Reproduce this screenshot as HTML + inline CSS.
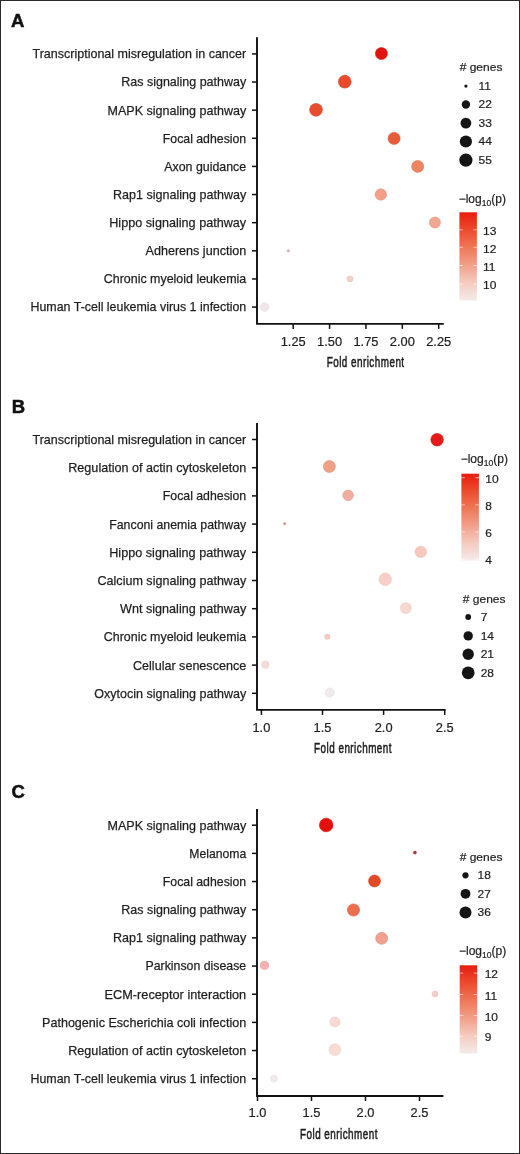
<!DOCTYPE html>
<html><head><meta charset="utf-8"><style>
html,body{margin:0;padding:0;background:#fff;}
svg{display:block;will-change:transform;}
text{font-family:"Liberation Sans",sans-serif;}
</style></head><body>
<svg width="520" height="1154" viewBox="0 0 520 1154">
<rect x="0.5" y="0.5" width="519" height="1153" fill="#fff" stroke="#2a2a2a" stroke-width="1"/>
<text x="11.0" y="26.8" font-size="18.5" font-weight="bold" fill="#111" stroke="#111" stroke-width="0.5">A</text>
<path d="M257 37.3V323.9H443.8" fill="none" stroke="#111" stroke-width="1.9" stroke-linejoin="miter" stroke-linecap="butt"/>
<path d="M252 53.90H257" stroke="#111" stroke-width="1.5"/>
<text x="32.50" y="58.30" font-size="13.6" fill="#1e1e1e" stroke="#1e1e1e" stroke-width="0.25" textLength="213.70" lengthAdjust="spacingAndGlyphs">Transcriptional misregulation in cancer</text>
<path d="M252 82.03H257" stroke="#111" stroke-width="1.5"/>
<text x="121.25" y="86.43" font-size="13.6" fill="#1e1e1e" stroke="#1e1e1e" stroke-width="0.25" textLength="124.95" lengthAdjust="spacingAndGlyphs">Ras signaling pathway</text>
<path d="M252 110.16H257" stroke="#111" stroke-width="1.5"/>
<text x="107.50" y="114.56" font-size="13.6" fill="#1e1e1e" stroke="#1e1e1e" stroke-width="0.25" textLength="138.69" lengthAdjust="spacingAndGlyphs">MAPK signaling pathway</text>
<path d="M252 138.29H257" stroke="#111" stroke-width="1.5"/>
<text x="162.80" y="142.69" font-size="13.6" fill="#1e1e1e" stroke="#1e1e1e" stroke-width="0.25" textLength="83.40" lengthAdjust="spacingAndGlyphs">Focal adhesion</text>
<path d="M252 166.42H257" stroke="#111" stroke-width="1.5"/>
<text x="164.25" y="170.82" font-size="13.6" fill="#1e1e1e" stroke="#1e1e1e" stroke-width="0.25" textLength="81.95" lengthAdjust="spacingAndGlyphs">Axon guidance</text>
<path d="M252 194.55H257" stroke="#111" stroke-width="1.5"/>
<text x="113.00" y="198.95" font-size="13.6" fill="#1e1e1e" stroke="#1e1e1e" stroke-width="0.25" textLength="133.20" lengthAdjust="spacingAndGlyphs">Rap1 signaling pathway</text>
<path d="M252 222.68H257" stroke="#111" stroke-width="1.5"/>
<text x="109.25" y="227.08" font-size="13.6" fill="#1e1e1e" stroke="#1e1e1e" stroke-width="0.25" textLength="136.95" lengthAdjust="spacingAndGlyphs">Hippo signaling pathway</text>
<path d="M252 250.81H257" stroke="#111" stroke-width="1.5"/>
<text x="145.50" y="255.21" font-size="13.6" fill="#1e1e1e" stroke="#1e1e1e" stroke-width="0.25" textLength="100.71" lengthAdjust="spacingAndGlyphs">Adherens junction</text>
<path d="M252 278.94H257" stroke="#111" stroke-width="1.5"/>
<text x="103.75" y="283.34" font-size="13.6" fill="#1e1e1e" stroke="#1e1e1e" stroke-width="0.25" textLength="142.44" lengthAdjust="spacingAndGlyphs">Chronic myeloid leukemia</text>
<path d="M252 307.07H257" stroke="#111" stroke-width="1.5"/>
<text x="30.50" y="311.47" font-size="13.6" fill="#1e1e1e" stroke="#1e1e1e" stroke-width="0.25" textLength="215.70" lengthAdjust="spacingAndGlyphs">Human T-cell leukemia virus 1 infection</text>
<path d="M293.20 323.9V328.9" stroke="#111" stroke-width="1.5"/>
<text x="293.20" y="345.8" font-size="12" text-anchor="middle" fill="#1e1e1e" stroke="#1e1e1e" stroke-width="0.2" textLength="24.99" lengthAdjust="spacingAndGlyphs">1.25</text>
<path d="M329.57 323.9V328.9" stroke="#111" stroke-width="1.5"/>
<text x="329.57" y="345.8" font-size="12" text-anchor="middle" fill="#1e1e1e" stroke="#1e1e1e" stroke-width="0.2" textLength="24.99" lengthAdjust="spacingAndGlyphs">1.50</text>
<path d="M365.95 323.9V328.9" stroke="#111" stroke-width="1.5"/>
<text x="365.95" y="345.8" font-size="12" text-anchor="middle" fill="#1e1e1e" stroke="#1e1e1e" stroke-width="0.2" textLength="24.99" lengthAdjust="spacingAndGlyphs">1.75</text>
<path d="M402.32 323.9V328.9" stroke="#111" stroke-width="1.5"/>
<text x="402.32" y="345.8" font-size="12" text-anchor="middle" fill="#1e1e1e" stroke="#1e1e1e" stroke-width="0.2" textLength="24.99" lengthAdjust="spacingAndGlyphs">2.00</text>
<path d="M438.70 323.9V328.9" stroke="#111" stroke-width="1.5"/>
<text x="438.70" y="345.8" font-size="12" text-anchor="middle" fill="#1e1e1e" stroke="#1e1e1e" stroke-width="0.2" textLength="24.99" lengthAdjust="spacingAndGlyphs">2.25</text>
<g transform="translate(326.71,367.30) scale(0.66,1)"><text x="0" y="0" font-size="15" fill="#1e1e1e" stroke="#1e1e1e" stroke-width="0.55" textLength="117.27" lengthAdjust="spacing">Fold enrichment</text></g>
<circle cx="381.4" cy="53.6" r="6.00" fill="#e2140e" stroke="#cb120c" stroke-width="0.6"/>
<circle cx="344.8" cy="81.7" r="6.40" fill="#e84a2c" stroke="#d04227" stroke-width="0.6"/>
<circle cx="316" cy="109.8" r="6.40" fill="#e94d30" stroke="#d1452b" stroke-width="0.6"/>
<circle cx="394.1" cy="138.4" r="6.00" fill="#e85c38" stroke="#d05232" stroke-width="0.6"/>
<circle cx="417.7" cy="166.4" r="6.00" fill="#ef8560" stroke="#d77756" stroke-width="0.6"/>
<circle cx="380.8" cy="194.5" r="5.70" fill="#f2a088" stroke="#d9907a" stroke-width="0.6"/>
<circle cx="434.9" cy="222.5" r="5.50" fill="#f3a690" stroke="#da9581" stroke-width="0.6"/>
<circle cx="288.4" cy="250.8" r="1.10" fill="#dcb2b0" stroke="#c6a09e" stroke-width="0.6"/>
<circle cx="350" cy="278.9" r="3.00" fill="#f5d0c6" stroke="#e8c5bc" stroke-width="0.6"/>
<circle cx="264.6" cy="307" r="4.40" fill="#efe7ea" stroke="#e3dbde" stroke-width="0.6"/>
<text x="459.7" y="71.3" font-size="11.5" fill="#1e1e1e" stroke="#1e1e1e" stroke-width="0.2" textLength="42.70" lengthAdjust="spacingAndGlyphs"># genes</text>
<circle cx="465.9" cy="86.1" r="1.60" fill="#151515"/>
<text x="478.5" y="89.9" font-size="11.5" fill="#1e1e1e" stroke="#1e1e1e" stroke-width="0.2" textLength="12.46" lengthAdjust="spacingAndGlyphs">11</text>
<circle cx="465.9" cy="104.5" r="4.20" fill="#151515"/>
<text x="478.5" y="108.3" font-size="11.5" fill="#1e1e1e" stroke="#1e1e1e" stroke-width="0.2" textLength="13.35" lengthAdjust="spacingAndGlyphs">22</text>
<circle cx="465.9" cy="123.1" r="5.40" fill="#151515"/>
<text x="478.5" y="126.9" font-size="11.5" fill="#1e1e1e" stroke="#1e1e1e" stroke-width="0.2" textLength="13.35" lengthAdjust="spacingAndGlyphs">33</text>
<circle cx="465.9" cy="141.5" r="6.10" fill="#151515"/>
<text x="478.5" y="145.3" font-size="11.5" fill="#1e1e1e" stroke="#1e1e1e" stroke-width="0.2" textLength="13.35" lengthAdjust="spacingAndGlyphs">44</text>
<circle cx="465.9" cy="160.1" r="6.60" fill="#151515"/>
<text x="478.5" y="163.9" font-size="11.5" fill="#1e1e1e" stroke="#1e1e1e" stroke-width="0.2" textLength="13.35" lengthAdjust="spacingAndGlyphs">55</text>
<text x="458.7" y="203.3" font-size="12" fill="#1e1e1e" stroke="#1e1e1e" stroke-width="0.2">&#8722;log<tspan font-size="8.6" dy="2.6">10</tspan><tspan dy="-2.6">(p)</tspan></text>
<defs><linearGradient id="g0" x1="0" y1="0" x2="0" y2="1"><stop offset="0" stop-color="#e81c0e"/><stop offset="0.2" stop-color="#ec4b2e"/><stop offset="0.4" stop-color="#ef7758"/><stop offset="0.6" stop-color="#f1a08a"/><stop offset="0.8" stop-color="#f5cbc0"/><stop offset="1" stop-color="#f4ebe9"/></linearGradient></defs>
<rect x="459.4" y="212.3" width="17.5" height="88.19999999999999" fill="url(#g0)"/>
<path d="M459.4 229.8h3.5M473.4 229.8h3.5" stroke="#fff" stroke-opacity="0.6" stroke-width="1"/>
<text x="483" y="235.0" font-size="11.5" fill="#1e1e1e" stroke="#1e1e1e" stroke-width="0.2" textLength="13.35" lengthAdjust="spacingAndGlyphs">13</text>
<path d="M459.4 247.3h3.5M473.4 247.3h3.5" stroke="#fff" stroke-opacity="0.6" stroke-width="1"/>
<text x="483" y="252.5" font-size="11.5" fill="#1e1e1e" stroke="#1e1e1e" stroke-width="0.2" textLength="13.35" lengthAdjust="spacingAndGlyphs">12</text>
<path d="M459.4 265.5h3.5M473.4 265.5h3.5" stroke="#fff" stroke-opacity="0.6" stroke-width="1"/>
<text x="483" y="270.7" font-size="11.5" fill="#1e1e1e" stroke="#1e1e1e" stroke-width="0.2" textLength="12.46" lengthAdjust="spacingAndGlyphs">11</text>
<path d="M459.4 284h3.5M473.4 284h3.5" stroke="#fff" stroke-opacity="0.6" stroke-width="1"/>
<text x="483" y="289.2" font-size="11.5" fill="#1e1e1e" stroke="#1e1e1e" stroke-width="0.2" textLength="13.35" lengthAdjust="spacingAndGlyphs">10</text>
<text x="11.8" y="412.7" font-size="18.5" font-weight="bold" fill="#111" stroke="#111" stroke-width="0.5">B</text>
<path d="M257 423.1V709.9H445.6" fill="none" stroke="#111" stroke-width="1.9" stroke-linejoin="miter" stroke-linecap="butt"/>
<path d="M252 439.50H257" stroke="#111" stroke-width="1.5"/>
<text x="32.50" y="443.90" font-size="13.6" fill="#1e1e1e" stroke="#1e1e1e" stroke-width="0.25" textLength="213.70" lengthAdjust="spacingAndGlyphs">Transcriptional misregulation in cancer</text>
<path d="M252 467.70H257" stroke="#111" stroke-width="1.5"/>
<text x="68.25" y="472.10" font-size="13.6" fill="#1e1e1e" stroke="#1e1e1e" stroke-width="0.25" textLength="177.95" lengthAdjust="spacingAndGlyphs">Regulation of actin cytoskeleton</text>
<path d="M252 495.90H257" stroke="#111" stroke-width="1.5"/>
<text x="162.80" y="500.30" font-size="13.6" fill="#1e1e1e" stroke="#1e1e1e" stroke-width="0.25" textLength="83.40" lengthAdjust="spacingAndGlyphs">Focal adhesion</text>
<path d="M252 524.10H257" stroke="#111" stroke-width="1.5"/>
<text x="109.25" y="528.50" font-size="13.6" fill="#1e1e1e" stroke="#1e1e1e" stroke-width="0.25" textLength="136.95" lengthAdjust="spacingAndGlyphs">Fanconi anemia pathway</text>
<path d="M252 552.30H257" stroke="#111" stroke-width="1.5"/>
<text x="109.25" y="556.70" font-size="13.6" fill="#1e1e1e" stroke="#1e1e1e" stroke-width="0.25" textLength="136.95" lengthAdjust="spacingAndGlyphs">Hippo signaling pathway</text>
<path d="M252 580.50H257" stroke="#111" stroke-width="1.5"/>
<text x="97.50" y="584.90" font-size="13.6" fill="#1e1e1e" stroke="#1e1e1e" stroke-width="0.25" textLength="148.71" lengthAdjust="spacingAndGlyphs">Calcium signaling pathway</text>
<path d="M252 608.70H257" stroke="#111" stroke-width="1.5"/>
<text x="120.00" y="613.10" font-size="13.6" fill="#1e1e1e" stroke="#1e1e1e" stroke-width="0.25" textLength="126.21" lengthAdjust="spacingAndGlyphs">Wnt signaling pathway</text>
<path d="M252 636.90H257" stroke="#111" stroke-width="1.5"/>
<text x="103.75" y="641.30" font-size="13.6" fill="#1e1e1e" stroke="#1e1e1e" stroke-width="0.25" textLength="142.44" lengthAdjust="spacingAndGlyphs">Chronic myeloid leukemia</text>
<path d="M252 665.10H257" stroke="#111" stroke-width="1.5"/>
<text x="133.00" y="669.50" font-size="13.6" fill="#1e1e1e" stroke="#1e1e1e" stroke-width="0.25" textLength="113.20" lengthAdjust="spacingAndGlyphs">Cellular senescence</text>
<path d="M252 693.30H257" stroke="#111" stroke-width="1.5"/>
<text x="94.25" y="697.70" font-size="13.6" fill="#1e1e1e" stroke="#1e1e1e" stroke-width="0.25" textLength="151.95" lengthAdjust="spacingAndGlyphs">Oxytocin signaling pathway</text>
<path d="M261.40 709.9V714.9" stroke="#111" stroke-width="1.5"/>
<text x="261.40" y="732" font-size="12" text-anchor="middle" fill="#1e1e1e" stroke="#1e1e1e" stroke-width="0.2" textLength="17.85" lengthAdjust="spacingAndGlyphs">1.0</text>
<path d="M322.50 709.9V714.9" stroke="#111" stroke-width="1.5"/>
<text x="322.50" y="732" font-size="12" text-anchor="middle" fill="#1e1e1e" stroke="#1e1e1e" stroke-width="0.2" textLength="17.85" lengthAdjust="spacingAndGlyphs">1.5</text>
<path d="M383.60 709.9V714.9" stroke="#111" stroke-width="1.5"/>
<text x="383.60" y="732" font-size="12" text-anchor="middle" fill="#1e1e1e" stroke="#1e1e1e" stroke-width="0.2" textLength="17.85" lengthAdjust="spacingAndGlyphs">2.0</text>
<path d="M444.70 709.9V714.9" stroke="#111" stroke-width="1.5"/>
<text x="444.70" y="732" font-size="12" text-anchor="middle" fill="#1e1e1e" stroke="#1e1e1e" stroke-width="0.2" textLength="17.85" lengthAdjust="spacingAndGlyphs">2.5</text>
<g transform="translate(314.11,752.80) scale(0.66,1)"><text x="0" y="0" font-size="15" fill="#1e1e1e" stroke="#1e1e1e" stroke-width="0.55" textLength="117.27" lengthAdjust="spacing">Fold enrichment</text></g>
<circle cx="437.1" cy="439.7" r="6.30" fill="#e51b1b" stroke="#ce1818" stroke-width="0.6"/>
<circle cx="329.4" cy="466.5" r="6.00" fill="#f0a084" stroke="#d89076" stroke-width="0.6"/>
<circle cx="348.1" cy="495.3" r="5.30" fill="#f2ada2" stroke="#d99b91" stroke-width="0.6"/>
<circle cx="284.6" cy="523.7" r="1.10" fill="#c8a090" stroke="#b49081" stroke-width="0.6"/>
<circle cx="420.8" cy="551.9" r="5.70" fill="#f5c8bc" stroke="#e8beb2" stroke-width="0.6"/>
<circle cx="385.2" cy="579.3" r="6.20" fill="#f7cfc6" stroke="#eac4bc" stroke-width="0.6"/>
<circle cx="405.8" cy="608.1" r="5.50" fill="#f8d8ce" stroke="#ebcdc3" stroke-width="0.6"/>
<circle cx="327.3" cy="636.8" r="2.70" fill="#f6cdc3" stroke="#e9c2b9" stroke-width="0.6"/>
<circle cx="265.4" cy="664.7" r="3.70" fill="#f6dcd6" stroke="#e9d1cb" stroke-width="0.6"/>
<circle cx="329.9" cy="692.6" r="4.50" fill="#f0ecee" stroke="#e4e0e2" stroke-width="0.6"/>
<text x="460.7" y="463.4" font-size="12" fill="#1e1e1e" stroke="#1e1e1e" stroke-width="0.2">&#8722;log<tspan font-size="8.6" dy="2.6">10</tspan><tspan dy="-2.6">(p)</tspan></text>
<defs><linearGradient id="g1" x1="0" y1="0" x2="0" y2="1"><stop offset="0" stop-color="#e81c0e"/><stop offset="0.2" stop-color="#ec4b2e"/><stop offset="0.4" stop-color="#ef7758"/><stop offset="0.6" stop-color="#f1a08a"/><stop offset="0.8" stop-color="#f5cbc0"/><stop offset="1" stop-color="#f4ebe9"/></linearGradient></defs>
<rect x="461.4" y="473.7" width="17.5" height="86.80000000000001" fill="url(#g1)"/>
<path d="M461.4 477.7h3.5M475.4 477.7h3.5" stroke="#fff" stroke-opacity="0.6" stroke-width="1"/>
<text x="485.3" y="482.9" font-size="11.5" fill="#1e1e1e" stroke="#1e1e1e" stroke-width="0.2" textLength="13.35" lengthAdjust="spacingAndGlyphs">10</text>
<path d="M461.4 504.9h3.5M475.4 504.9h3.5" stroke="#fff" stroke-opacity="0.6" stroke-width="1"/>
<text x="485.3" y="510.1" font-size="11.5" fill="#1e1e1e" stroke="#1e1e1e" stroke-width="0.2" textLength="6.67" lengthAdjust="spacingAndGlyphs">8</text>
<path d="M461.4 531.9h3.5M475.4 531.9h3.5" stroke="#fff" stroke-opacity="0.6" stroke-width="1"/>
<text x="485.3" y="537.1" font-size="11.5" fill="#1e1e1e" stroke="#1e1e1e" stroke-width="0.2" textLength="6.67" lengthAdjust="spacingAndGlyphs">6</text>
<path d="M461.4 559.1h3.5M475.4 559.1h3.5" stroke="#fff" stroke-opacity="0.6" stroke-width="1"/>
<text x="485.3" y="564.3" font-size="11.5" fill="#1e1e1e" stroke="#1e1e1e" stroke-width="0.2" textLength="6.67" lengthAdjust="spacingAndGlyphs">4</text>
<text x="462.8" y="602.5" font-size="11.5" fill="#1e1e1e" stroke="#1e1e1e" stroke-width="0.2" textLength="42.70" lengthAdjust="spacingAndGlyphs"># genes</text>
<circle cx="468.2" cy="617" r="2.90" fill="#151515"/>
<text x="480.7" y="620.8" font-size="11.5" fill="#1e1e1e" stroke="#1e1e1e" stroke-width="0.2" textLength="6.67" lengthAdjust="spacingAndGlyphs">7</text>
<circle cx="468.2" cy="635.9" r="4.70" fill="#151515"/>
<text x="480.7" y="639.7" font-size="11.5" fill="#1e1e1e" stroke="#1e1e1e" stroke-width="0.2" textLength="13.35" lengthAdjust="spacingAndGlyphs">14</text>
<circle cx="468.2" cy="654.3" r="5.70" fill="#151515"/>
<text x="480.7" y="658.1" font-size="11.5" fill="#1e1e1e" stroke="#1e1e1e" stroke-width="0.2" textLength="13.35" lengthAdjust="spacingAndGlyphs">21</text>
<circle cx="468.2" cy="672.8" r="6.40" fill="#151515"/>
<text x="480.7" y="676.6" font-size="11.5" fill="#1e1e1e" stroke="#1e1e1e" stroke-width="0.2" textLength="13.35" lengthAdjust="spacingAndGlyphs">28</text>
<text x="11.6" y="798.4" font-size="18.5" font-weight="bold" fill="#111" stroke="#111" stroke-width="0.5">C</text>
<path d="M257 809V1096H443.4" fill="none" stroke="#111" stroke-width="1.9" stroke-linejoin="miter" stroke-linecap="butt"/>
<path d="M252 825.20H257" stroke="#111" stroke-width="1.5"/>
<text x="107.50" y="829.60" font-size="13.6" fill="#1e1e1e" stroke="#1e1e1e" stroke-width="0.25" textLength="138.69" lengthAdjust="spacingAndGlyphs">MAPK signaling pathway</text>
<path d="M252 853.37H257" stroke="#111" stroke-width="1.5"/>
<text x="189.25" y="857.77" font-size="13.6" fill="#1e1e1e" stroke="#1e1e1e" stroke-width="0.25" textLength="56.94" lengthAdjust="spacingAndGlyphs">Melanoma</text>
<path d="M252 881.54H257" stroke="#111" stroke-width="1.5"/>
<text x="162.80" y="885.94" font-size="13.6" fill="#1e1e1e" stroke="#1e1e1e" stroke-width="0.25" textLength="83.40" lengthAdjust="spacingAndGlyphs">Focal adhesion</text>
<path d="M252 909.71H257" stroke="#111" stroke-width="1.5"/>
<text x="121.25" y="914.11" font-size="13.6" fill="#1e1e1e" stroke="#1e1e1e" stroke-width="0.25" textLength="124.95" lengthAdjust="spacingAndGlyphs">Ras signaling pathway</text>
<path d="M252 937.88H257" stroke="#111" stroke-width="1.5"/>
<text x="113.00" y="942.28" font-size="13.6" fill="#1e1e1e" stroke="#1e1e1e" stroke-width="0.25" textLength="133.20" lengthAdjust="spacingAndGlyphs">Rap1 signaling pathway</text>
<path d="M252 966.05H257" stroke="#111" stroke-width="1.5"/>
<text x="145.50" y="970.45" font-size="13.6" fill="#1e1e1e" stroke="#1e1e1e" stroke-width="0.25" textLength="100.71" lengthAdjust="spacingAndGlyphs">Parkinson disease</text>
<path d="M252 994.22H257" stroke="#111" stroke-width="1.5"/>
<text x="104.50" y="998.62" font-size="13.6" fill="#1e1e1e" stroke="#1e1e1e" stroke-width="0.25" textLength="141.70" lengthAdjust="spacingAndGlyphs">ECM-receptor interaction</text>
<path d="M252 1022.39H257" stroke="#111" stroke-width="1.5"/>
<text x="42.00" y="1026.79" font-size="13.6" fill="#1e1e1e" stroke="#1e1e1e" stroke-width="0.25" textLength="204.19" lengthAdjust="spacingAndGlyphs">Pathogenic Escherichia coli infection</text>
<path d="M252 1050.56H257" stroke="#111" stroke-width="1.5"/>
<text x="68.25" y="1054.96" font-size="13.6" fill="#1e1e1e" stroke="#1e1e1e" stroke-width="0.25" textLength="177.95" lengthAdjust="spacingAndGlyphs">Regulation of actin cytoskeleton</text>
<path d="M252 1078.73H257" stroke="#111" stroke-width="1.5"/>
<text x="30.50" y="1083.13" font-size="13.6" fill="#1e1e1e" stroke="#1e1e1e" stroke-width="0.25" textLength="215.70" lengthAdjust="spacingAndGlyphs">Human T-cell leukemia virus 1 infection</text>
<path d="M257.50 1096V1101" stroke="#111" stroke-width="1.5"/>
<text x="257.50" y="1117.1" font-size="12" text-anchor="middle" fill="#1e1e1e" stroke="#1e1e1e" stroke-width="0.2" textLength="17.85" lengthAdjust="spacingAndGlyphs">1.0</text>
<path d="M311.50 1096V1101" stroke="#111" stroke-width="1.5"/>
<text x="311.50" y="1117.1" font-size="12" text-anchor="middle" fill="#1e1e1e" stroke="#1e1e1e" stroke-width="0.2" textLength="17.85" lengthAdjust="spacingAndGlyphs">1.5</text>
<path d="M365.50 1096V1101" stroke="#111" stroke-width="1.5"/>
<text x="365.50" y="1117.1" font-size="12" text-anchor="middle" fill="#1e1e1e" stroke="#1e1e1e" stroke-width="0.2" textLength="17.85" lengthAdjust="spacingAndGlyphs">2.0</text>
<path d="M419.50 1096V1101" stroke="#111" stroke-width="1.5"/>
<text x="419.50" y="1117.1" font-size="12" text-anchor="middle" fill="#1e1e1e" stroke="#1e1e1e" stroke-width="0.2" textLength="17.85" lengthAdjust="spacingAndGlyphs">2.5</text>
<g transform="translate(300.01,1139.00) scale(0.66,1)"><text x="0" y="0" font-size="15" fill="#1e1e1e" stroke="#1e1e1e" stroke-width="0.55" textLength="117.27" lengthAdjust="spacing">Fold enrichment</text></g>
<circle cx="326.2" cy="825" r="6.80" fill="#e5100e" stroke="#ce0e0c" stroke-width="0.6"/>
<circle cx="414.9" cy="852.6" r="1.50" fill="#b83030" stroke="#a52b2b" stroke-width="0.6"/>
<circle cx="374.5" cy="881" r="5.95" fill="#e44a25" stroke="#cd4221" stroke-width="0.6"/>
<circle cx="353.5" cy="910" r="6.10" fill="#ec6e4c" stroke="#d46344" stroke-width="0.6"/>
<circle cx="381.7" cy="938.3" r="6.00" fill="#f2a090" stroke="#d99081" stroke-width="0.6"/>
<circle cx="264.5" cy="965.3" r="4.10" fill="#f5b0b0" stroke="#dc9e9e" stroke-width="0.6"/>
<circle cx="435" cy="994" r="3.00" fill="#f6cfc9" stroke="#e9c4be" stroke-width="0.6"/>
<circle cx="334.9" cy="1022" r="5.10" fill="#f8d8d2" stroke="#ebcdc7" stroke-width="0.6"/>
<circle cx="334.9" cy="1049.7" r="5.90" fill="#f8dcd4" stroke="#ebd1c9" stroke-width="0.6"/>
<circle cx="274" cy="1078.5" r="3.40" fill="#f0eaee" stroke="#e4dee2" stroke-width="0.6"/>
<text x="459.7" y="860.9" font-size="11.5" fill="#1e1e1e" stroke="#1e1e1e" stroke-width="0.2" textLength="42.70" lengthAdjust="spacingAndGlyphs"># genes</text>
<circle cx="465.5" cy="875.3" r="3.10" fill="#151515"/>
<text x="477.6" y="879.1" font-size="11.5" fill="#1e1e1e" stroke="#1e1e1e" stroke-width="0.2" textLength="13.35" lengthAdjust="spacingAndGlyphs">18</text>
<circle cx="465.5" cy="893.8" r="4.90" fill="#151515"/>
<text x="477.6" y="897.6" font-size="11.5" fill="#1e1e1e" stroke="#1e1e1e" stroke-width="0.2" textLength="13.35" lengthAdjust="spacingAndGlyphs">27</text>
<circle cx="465.5" cy="912.4" r="6.00" fill="#151515"/>
<text x="477.6" y="916.2" font-size="11.5" fill="#1e1e1e" stroke="#1e1e1e" stroke-width="0.2" textLength="13.35" lengthAdjust="spacingAndGlyphs">36</text>
<text x="459.0" y="955.1" font-size="12" fill="#1e1e1e" stroke="#1e1e1e" stroke-width="0.2">&#8722;log<tspan font-size="8.6" dy="2.6">10</tspan><tspan dy="-2.6">(p)</tspan></text>
<defs><linearGradient id="g2" x1="0" y1="0" x2="0" y2="1"><stop offset="0" stop-color="#e81c0e"/><stop offset="0.2" stop-color="#ec4b2e"/><stop offset="0.4" stop-color="#ef7758"/><stop offset="0.6" stop-color="#f1a08a"/><stop offset="0.8" stop-color="#f5cbc0"/><stop offset="1" stop-color="#f4ebe9"/></linearGradient></defs>
<rect x="459.7" y="965.3" width="17.5" height="88.20000000000005" fill="url(#g2)"/>
<path d="M459.7 973.1h3.5M473.7 973.1h3.5" stroke="#fff" stroke-opacity="0.6" stroke-width="1"/>
<text x="484.7" y="978.3" font-size="11.5" fill="#1e1e1e" stroke="#1e1e1e" stroke-width="0.2" textLength="13.35" lengthAdjust="spacingAndGlyphs">12</text>
<path d="M459.7 994.5h3.5M473.7 994.5h3.5" stroke="#fff" stroke-opacity="0.6" stroke-width="1"/>
<text x="484.7" y="999.7" font-size="11.5" fill="#1e1e1e" stroke="#1e1e1e" stroke-width="0.2" textLength="12.46" lengthAdjust="spacingAndGlyphs">11</text>
<path d="M459.7 1015.5h3.5M473.7 1015.5h3.5" stroke="#fff" stroke-opacity="0.6" stroke-width="1"/>
<text x="484.7" y="1020.7" font-size="11.5" fill="#1e1e1e" stroke="#1e1e1e" stroke-width="0.2" textLength="13.35" lengthAdjust="spacingAndGlyphs">10</text>
<path d="M459.7 1036.2h3.5M473.7 1036.2h3.5" stroke="#fff" stroke-opacity="0.6" stroke-width="1"/>
<text x="484.7" y="1041.4" font-size="11.5" fill="#1e1e1e" stroke="#1e1e1e" stroke-width="0.2" textLength="6.67" lengthAdjust="spacingAndGlyphs">9</text>
</svg>
</body></html>
